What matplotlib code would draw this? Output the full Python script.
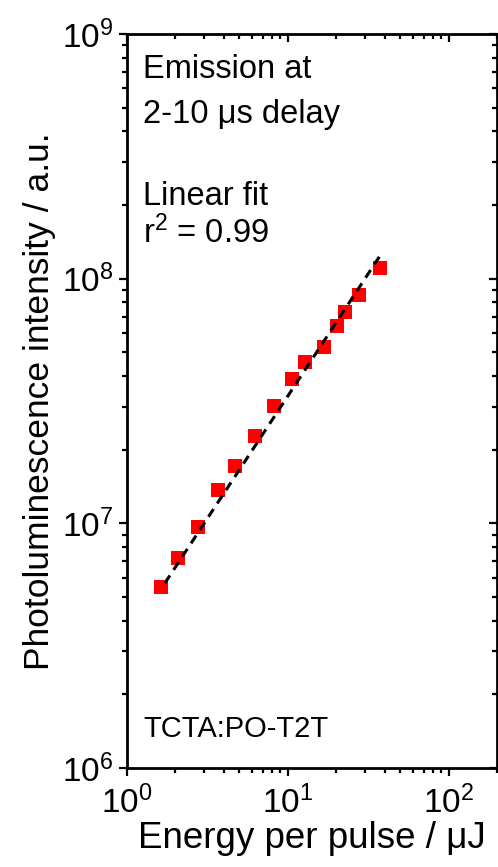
import numpy as np
import matplotlib
matplotlib.use('Agg')
import matplotlib.pyplot as plt

plt.rcParams['font.family'] = ['Liberation Sans', 'DejaVu Sans']
plt.rcParams['mathtext.fontset'] = 'custom'
plt.rcParams['mathtext.rm'] = 'Liberation Sans'
plt.rcParams['mathtext.it'] = 'Liberation Sans:italic'

# ── Data: PL intensity vs pulse energy ───────────────────────
energy_uJ = [1.63, 2.08, 2.77, 3.69, 4.69, 6.24, 8.22,
             10.6, 12.8, 16.7, 20.1, 22.6, 27.7, 37.6]
pl_intensity = [5.48e6, 7.19e6, 9.63e6, 1.37e7, 1.72e7, 2.28e7, 3.02e7,
                3.88e7, 4.55e7, 5.27e7, 6.40e7, 7.32e7, 8.57e7, 1.11e8]

# linear fit on log-log axes (slope ~1)
fit_slope = 1.0
fit_log_a = 6.52
fit_range = [1.72, 38.2]

fig = plt.figure(figsize=(4.98, 8.67), dpi=100)
ax = fig.add_axes([0.255, 0.1142, 0.743, 0.8466])

ax.plot(energy_uJ, pl_intensity, 's', color='#ff0000', markersize=9.5,
        markeredgewidth=0, zorder=3)

xf = np.array(fit_range)
yf = 10 ** (fit_log_a + fit_slope * np.log10(xf))
ax.plot(xf, yf, '--', color='black', lw=2.2, dashes=(3, 2.2), zorder=4)

ax.set_xscale('log')
ax.set_yscale('log')
ax.set_xlim(1, 200)
ax.set_ylim(1e6, 1e9)

for s in ax.spines.values():
    s.set_linewidth(2)

ax.tick_params(axis='both', which='major', labelsize=24, width=1.6, length=6)
ax.tick_params(axis='both', which='minor', width=1.6, length=3.5)
ax.tick_params(axis='x', which='both', top=True, pad=7)
ax.tick_params(axis='y', which='both', right=True, pad=4)
# ticks outward on bottom/left, inward on top/right
ax.xaxis.set_tick_params(which='both', direction='out')
ax.yaxis.set_tick_params(which='both', direction='out')
for t in ax.xaxis.get_major_ticks() + ax.xaxis.get_minor_ticks():
    t.tick2line.set_marker(matplotlib.lines.TICKDOWN)
for t in ax.yaxis.get_major_ticks() + ax.yaxis.get_minor_ticks():
    t.tick2line.set_marker(matplotlib.lines.TICKLEFT)

ax.set_xlabel('Energy per pulse / μJ', fontsize=26.5, labelpad=0)
ax.set_ylabel('Photoluminescence intensity / a.u.', fontsize=25.5, labelpad=4)

tx = 0.043
fs = 23.5
ax.text(tx, 0.940, 'Emission at', transform=ax.transAxes, fontsize=fs, va='baseline')
ax.text(tx, 0.879, '2-10 μs delay', transform=ax.transAxes, fontsize=fs, va='baseline')
ax.text(tx, 0.767, 'Linear fit', transform=ax.transAxes, fontsize=fs, va='baseline')
ax.text(tx, 0.715, r'r$^2$ = 0.99', transform=ax.transAxes, fontsize=fs, va='baseline')
ax.text(tx, 0.042, 'TCTA:PO-T2T', transform=ax.transAxes, fontsize=21, va='baseline')

fig.savefig('out.png', dpi=100)
